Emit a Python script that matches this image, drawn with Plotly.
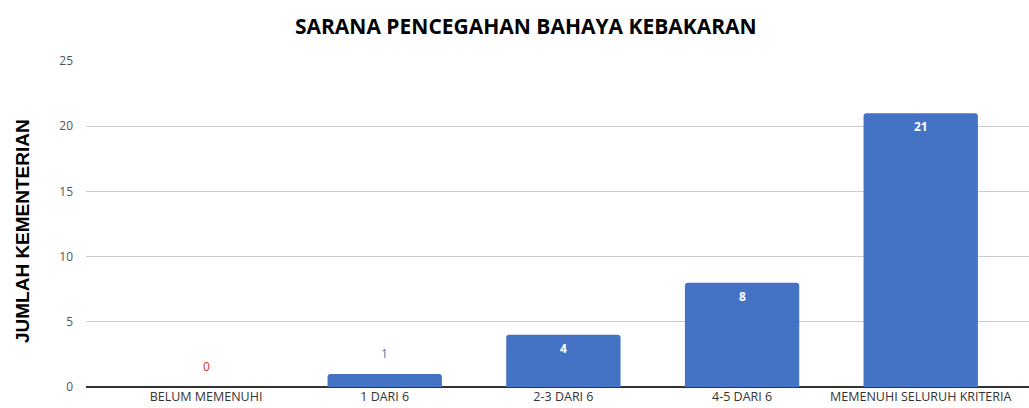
import plotly.graph_objects as go

categories = ["BELUM MEMENUHI", "1 DARI 6", "2-3 DARI 6", "4-5 DARI 6", "MEMENUHI SELURUH KRITERIA"]
values = [0, 1, 4, 8, 21]
label_colors = ["#d93025", "#4472c4", "#ffffff", "#ffffff", "#ffffff"]
y_ticks = [0, 5, 10, 15, 20, 25]

BAR = "#4472c4"

fig = go.Figure()
fig.add_trace(go.Bar(
    x=list(range(len(categories))),
    y=values,
    width=0.64,
    marker=dict(color=BAR, cornerradius=3, line=dict(width=0)),
    hoverinfo="skip",
))

annotations = []
for i, (v, c) in enumerate(zip(values, label_colors)):
    inside = v >= 4
    annotations.append(dict(
        x=i, y=v, xref="x", yref="y",
        text=str(v), showarrow=False,
        yanchor="top" if inside else "bottom",
        yshift=-3 if inside else 10,
        font=dict(family="Open Sans, sans-serif", size=12, color=c,
                  weight="bold" if inside else "normal"),
    ))

fig.update_layout(
    width=1029, height=408,
    margin=dict(l=86, r=0, t=61, b=21, pad=0, autoexpand=False),
    paper_bgcolor="white", plot_bgcolor="white",
    showlegend=False,
    title=dict(text="<b>SARANA PENCEGAHAN BAHAYA KEBAKARAN</b>",
               x=0.511, xanchor="center", y=0.935, yanchor="middle",
               font=dict(family="Open Sans, sans-serif", size=21, color="#000000")),
    annotations=annotations + [dict(
        text="<b>JUMLAH KEMENTERIAN</b>", xref="paper", yref="paper",
        x=-0.068, y=0.478, xanchor="center", yanchor="middle",
        textangle=-90, showarrow=False,
        font=dict(family="Liberation Sans, Arial, sans-serif", size=19, color="#000000"),
    )],
    xaxis=dict(
        tickmode="array", tickvals=list(range(len(categories))), ticktext=categories,
        range=[-0.672, 4.606], showgrid=False, zeroline=False,
        showline=False, ticks="", ticklen=0, automargin=False,
        tickfont=dict(family="Open Sans, sans-serif", size=12.5, color="#333333"),
    ),
    yaxis=dict(
        range=[0, 25], tickvals=y_ticks, showgrid=True, gridcolor="#cccccc", gridwidth=1,
        zeroline=True, zerolinecolor="#333333", zerolinewidth=1.5,
        ticks="", ticklabelstandoff=12, automargin=False,
        tickfont=dict(family="Open Sans, sans-serif", size=12, color="#555555"),
    ),
)

fig.write_html("out.html", config={"displayModeBar": False})

# remove default body margin so the figure fills the window exactly
with open("out.html", "r", encoding="utf-8") as f:
    html = f.read()
html = html.replace("<head>", "<head><style>html,body{margin:0;padding:0;overflow:hidden;}</style>", 1)
with open("out.html", "w", encoding="utf-8") as f:
    f.write(html)
